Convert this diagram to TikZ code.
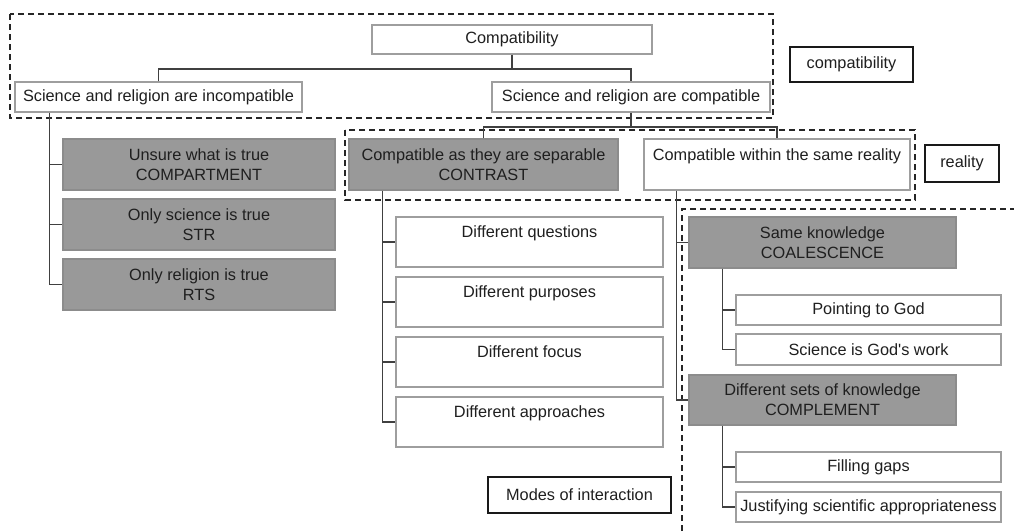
\documentclass[tikz,border=0pt]{standalone}
\usepackage{fontspec}
\setmainfont{Liberation Sans}
\begin{document}
\begin{tikzpicture}[x=1pt,y=-1pt,
  every node/.style={font=\fontsize{16.3}{20}\selectfont, text=black!88, inner sep=0pt, align=center},
  whitebox/.style={draw=black!38, line width=1.3pt, fill=white},
  graybox/.style={draw=black!45, line width=1.1pt, fill=black!40},
  labelbox/.style={draw=black!90, line width=1.6pt, fill=white},
  link/.style={draw=black!75, line width=1.4pt},
  region/.style={draw=black!85, line width=1.4pt, dash pattern=on 6pt off 4pt}
]
\useasboundingbox[fill=white] (0,0) rectangle (1014,531);

% dashed grouping regions
\draw[region] (10,14) rectangle (773,118);
\draw[region] (345,130) rectangle (915,200);
\coordinate (rbl) at (682,531);
\coordinate (rtl) at (682,209);
\coordinate (rtr) at (1014,209);
\draw[region] (rbl) -- (rtl) -- (rtr);

% top level
\node[whitebox, minimum width=280pt, minimum height=29pt] (comp) at (512,39.5) {Compatibility};
\node[whitebox, minimum width=287pt, minimum height=30pt] (incomp) at (158.5,97) {Science and religion are incompatible};
\node[whitebox, minimum width=278pt, minimum height=30pt] (compat) at (631,97) {Science and religion are compatible};

% incompatible branch
\node[graybox, minimum width=272pt, minimum height=51pt] (compart) at (199,164.5) {Unsure what is true\\COMPARTMENT};
\node[graybox, minimum width=272pt, minimum height=51pt] (str) at (199,224.5) {Only science is true\\STR};
\node[graybox, minimum width=272pt, minimum height=51pt] (rts) at (199,284.5) {Only religion is true\\RTS};

% compatible branch
\node[graybox, minimum width=269pt, minimum height=51pt] (contrast) at (483.5,164.5) {Compatible as they are separable\\CONTRAST};
\node[whitebox, minimum width=266pt, minimum height=51pt] (within) at (777,164.5) {Compatible within the same reality\\\phantom{X}};

% contrast children
\node[whitebox, minimum width=267pt, minimum height=50pt] (dq) at (529.5,242) {Different questions\\\phantom{X}};
\node[whitebox, minimum width=267pt, minimum height=50pt] (dp) at (529.5,302) {Different purposes\\\phantom{X}};
\node[whitebox, minimum width=267pt, minimum height=50pt] (df) at (529.5,362) {Different focus\\\phantom{X}};
\node[whitebox, minimum width=267pt, minimum height=50pt] (da) at (529.5,422) {Different approaches\\\phantom{X}};

% same reality children
\node[graybox, minimum width=267pt, minimum height=51pt] (coal) at (822.5,242.5) {Same knowledge\\COALESCENCE};
\node[graybox, minimum width=267pt, minimum height=50pt] (compl) at (822.5,400) {Different sets of knowledge\\COMPLEMENT};
\node[whitebox, minimum width=265pt, minimum height=30pt] (god) at (868.5,310) {Pointing to God};
\node[whitebox, minimum width=265pt, minimum height=31pt] (work) at (868.5,349.5) {Science is God\textquotesingle s work};
\node[whitebox, minimum width=265pt, minimum height=30pt] (gaps) at (868.5,467) {Filling gaps};
\node[whitebox, minimum width=265pt, minimum height=30pt] (just) at (868.5,507) {Justifying scientific appropriateness};

% legend labels
\node[labelbox, minimum width=123pt, minimum height=35pt] (lcomp) at (851.5,64.5) {compatibility};
\node[labelbox, minimum width=74pt, minimum height=37pt] (lreal) at (962,163.5) {reality};
\node[labelbox, minimum width=183pt, minimum height=36pt] (lmodes) at (579.5,495) {Modes of interaction};

% connectors
\coordinate (bus1) at (0,69);
\draw[link] (comp.south) -- (comp.south |- bus1);
\draw[link] (incomp.north) -- (incomp.north |- bus1) -| (compat.north);

\coordinate (bus2) at (0,127);
\draw[link] (compat.south) -- (compat.south |- bus2);
\draw[link] (contrast.north) -- (contrast.north |- bus2) -| (within.north);

\coordinate (t1) at ([xshift=35pt]incomp.south west);
\draw[link] (t1) |- (rts.west);
\draw[link] (t1 |- compart.west) -- (compart.west);
\draw[link] (t1 |- str.west) -- (str.west);

\coordinate (t2) at ([xshift=34pt]contrast.south west);
\draw[link] (t2) |- (da.west);
\draw[link] (t2 |- dq.west) -- (dq.west);
\draw[link] (t2 |- dp.west) -- (dp.west);
\draw[link] (t2 |- df.west) -- (df.west);

\coordinate (t3) at ([xshift=33pt]within.south west);
\draw[link] (t3) |- (compl.west);
\draw[link] (t3 |- coal.west) -- (coal.west);

\coordinate (t4) at ([xshift=34pt]coal.south west);
\draw[link] (t4) |- (work.west);
\draw[link] (t4 |- god.west) -- (god.west);

\coordinate (t5) at ([xshift=34pt]compl.south west);
\draw[link] (t5) |- (just.west);
\draw[link] (t5 |- gaps.west) -- (gaps.west);
\end{tikzpicture}
\end{document}
